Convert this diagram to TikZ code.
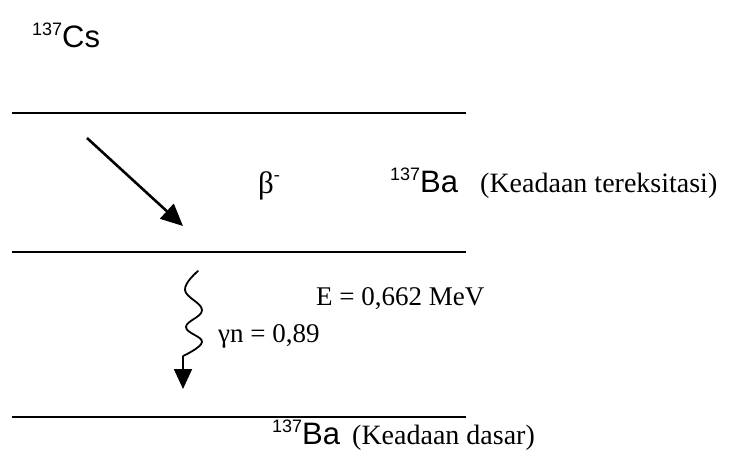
\documentclass[tikz,border=0pt]{standalone}
\usepackage{fontspec}
\setmainfont{Liberation Serif}
\newfontfamily\arialf{Liberation Sans}
\usetikzlibrary{arrows.meta}
\newcommand\mynuc[2]{\raisebox{12pt}{\arialf\fontsize{18}{18}\selectfont #1}\arialf\fontsize{31}{31}\selectfont #2}
\newcommand\serifsz{\fontsize{27}{27}\selectfont}
\begin{document}
\begin{tikzpicture}[x=1pt,y=-1pt,
  level/.style={line width=2pt},
  lbl/.style={inner sep=0pt, anchor=base west},
  decay/.style={line width=2.6pt, -{Triangle[length=22pt,width=20pt]}},
  gam/.style={line width=1.8pt, -{Triangle[length=20pt,width=18pt]}}]
\useasboundingbox (0,0) rectangle (731,460);
% energy levels
\coordinate (l1a) at (12,113); \coordinate (l1b) at (466,113);
\coordinate (l2a) at (12,252); \coordinate (l2b) at (466,252);
\coordinate (l3a) at (12,417); \coordinate (l3b) at (466,417);
\draw[level] (l1a) -- (l1b);
\draw[level] (l2a) -- (l2b);
\draw[level] (l3a) -- (l3b);
% labels
\node[lbl] (cs) at (32,48) {\mynuc{137}{Cs}};
\node[lbl] (beta) at (258,193) {\fontsize{31}{31}\selectfont β\raisebox{13pt}{\fontsize{18}{18}\selectfont -}};
\node[lbl] (ba1) at (390,192) {\mynuc{137}{Ba}};
\node[lbl] (ex) at (480,192) {\fontsize{28}{28}\selectfont (Keadaan tereksitasi)};
\node[lbl] (en) at (316,305) {\serifsz E = 0,662 MeV};
\node[lbl] (gn) at (218,342) {\serifsz γn = 0,89};
\node[lbl] (ba2) at (272,444) {\mynuc{137}{Ba}};
\node[lbl] (gs) at (352,444) {\fontsize{28}{28}\selectfont (Keadaan dasar)};
% beta arrow
\coordinate (bs) at (87,138);
\coordinate (be) at (183,226);
\draw[decay] (bs) -- (be);
% gamma wavy arrow
\coordinate (gs0) at (198,271);
\coordinate (gs1) at (183,356);
\coordinate (ge) at (183,389);
\draw[line width=1.8pt, line cap=round] plot[smooth, tension=0.7] coordinates {(gs0) (185,290) (202,310) (186,327) (202,342) (gs1)};
\draw[gam] (gs1) -- (ge);
\end{tikzpicture}
\end{document}
